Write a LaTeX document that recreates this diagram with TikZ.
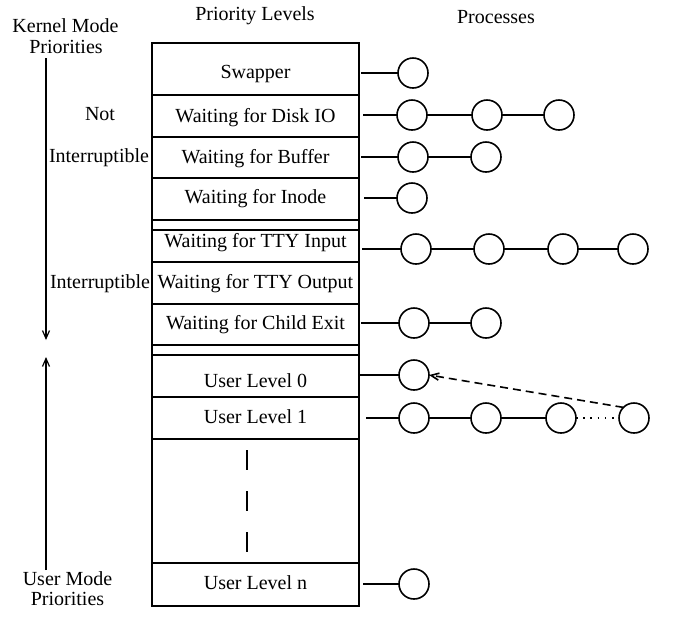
\documentclass[tikz,border=0pt]{standalone}
\usepackage{fontspec}
\setmainfont{Liberation Serif}
\usetikzlibrary{arrows.meta}
\begin{document}
\begin{tikzpicture}[x=0.5pt,y=-0.5pt,
  lbl/.style={anchor=base,inner sep=0pt,font=\fontsize{10}{12}\selectfont},
  rowbox/.style={draw,line width=0.6pt,minimum width=103.5pt,inner sep=0pt,outer sep=0pt},
  proc/.style={draw,circle,line width=0.8pt,minimum size=15pt,inner sep=0pt,outer sep=0pt},
  link/.style={line width=0.8pt},
  axis/.style={line width=0.6pt},
  barb/.style={-{Straight Barb[length=4pt,width=3.5pt]}},
  waitlink/.style={line width=0.8pt,dash pattern=on 4pt off 2.5pt},
  morelink/.style={line width=0.9pt,dash pattern=on 0.8pt off 2.8pt},
  gapdash/.style={line width=1pt,dash pattern=on 10pt off 10.5pt}
]
\useasboundingbox (0,0) rectangle (678,628);

% headings
\node[lbl] (hk1) at (65.5,32) {Kernel Mode};
\node[lbl] (hk2) at (66,53) {Priorities};
\node[lbl] (hp) at (255,20) {Priority Levels};
\node[lbl] (hq) at (496,23) {Processes};
\node[lbl] (lnot) at (100,120) {Not};
\node[lbl] (lint1) at (99,162) {Interruptible};
\node[lbl] (lint2) at (100,288) {Interruptible};
\node[lbl] (hu1) at (67.5,585) {User Mode};
\node[lbl] (hu2) at (67.5,605) {Priorities};

% left arrows
\coordinate (ka) at (46,58);
\coordinate (kb) at (46,340);
\coordinate (ua) at (46,570);
\coordinate (ub) at (46,357);
\draw[axis,barb] (ka) -- (kb);
\draw[axis,barb] (ua) -- (ub);

% priority rows
\node[rowbox,minimum height=26pt]   (r1)  at (255.5,69) {};
\node[rowbox,minimum height=21pt]   (r2)  at (255.5,116) {};
\node[rowbox,minimum height=20.5pt] (r3)  at (255.5,157.5) {};
\node[rowbox,minimum height=21pt]   (r4)  at (255.5,199) {};
\node[rowbox,minimum height=5pt]    (g1)  at (255.5,225) {};
\node[rowbox,minimum height=16pt]   (r5)  at (255.5,246) {};
\node[rowbox,minimum height=21pt]   (r6)  at (255.5,283) {};
\node[rowbox,minimum height=20.5pt] (r7)  at (255.5,324.5) {};
\node[rowbox,minimum height=5pt]    (g2)  at (255.5,350) {};
\node[rowbox,minimum height=21pt]   (r8)  at (255.5,376) {};
\node[rowbox,minimum height=21pt]   (r9)  at (255.5,418) {};
\node[rowbox,minimum height=62pt]   (r10) at (255.5,501) {};
\node[rowbox,minimum height=21.5pt] (r11) at (255.5,584.5) {};

% row texts
\node[lbl] (t1)  at (255.5,78)  {Swapper};
\node[lbl] (t2)  at (255.5,122) {Waiting for Disk IO};
\node[lbl] (t3)  at (255.5,163) {Waiting for Buffer};
\node[lbl] (t4)  at (255.5,203) {Waiting for Inode};
\node[lbl] (t5)  at (255.5,247) {Waiting for TTY Input};
\node[lbl] (t6)  at (255.5,288) {Waiting for TTY Output};
\node[lbl] (t7)  at (255.5,329) {Waiting for Child Exit};
\node[lbl] (t8)  at (255.5,387) {User Level 0};
\node[lbl] (t9)  at (255.5,423) {User Level 1};
\node[lbl] (t11) at (255.5,589) {User Level n};

\draw[gapdash] (247,450) -- (247,553);

% processes
\coordinate (s1) at (361,73);
\node[proc] (c11) at (413,73) {};
\draw[link] (s1) -- (c11);

\coordinate (s2) at (363,115);
\node[proc] (c21) at (412,115) {};
\node[proc] (c22) at (487,115) {};
\node[proc] (c23) at (559,115) {};
\draw[link] (s2) -- (c21) (c21) -- (c22) (c22) -- (c23);

\coordinate (s3) at (361,157);
\node[proc] (c31) at (413,157) {};
\node[proc] (c32) at (486,157) {};
\draw[link] (s3) -- (c31) (c31) -- (c32);

\coordinate (s4) at (364,198);
\node[proc] (c41) at (412,198) {};
\draw[link] (s4) -- (c41);

\coordinate (s5) at (362,249);
\node[proc] (c51) at (416,249) {};
\node[proc] (c52) at (489,249) {};
\node[proc] (c53) at (563,249) {};
\node[proc] (c54) at (633,249) {};
\draw[link] (s5) -- (c51) (c51) -- (c52) (c52) -- (c53) (c53) -- (c54);

\coordinate (s7) at (361,323);
\node[proc] (c71) at (414,323) {};
\node[proc] (c72) at (486,323) {};
\draw[link] (s7) -- (c71) (c71) -- (c72);

\coordinate (s8) at (360,375);
\node[proc] (c81) at (414,375) {};
\draw[link] (s8) -- (c81);

\coordinate (s9) at (366,418);
\node[proc] (c91) at (414,418) {};
\node[proc] (c92) at (486,418) {};
\node[proc] (c93) at (561,418) {};
\node[proc] (c94) at (634,418) {};
\draw[link] (s9) -- (c91) (c91) -- (c92) (c92) -- (c93);
\draw[morelink] (c93) -- (c94);
\draw[waitlink,barb] (c94.135) -- (c81.east);

\coordinate (s11) at (363,584);
\node[proc] (c111) at (414,584) {};
\draw[link] (s11) -- (c111);
\end{tikzpicture}
\end{document}
